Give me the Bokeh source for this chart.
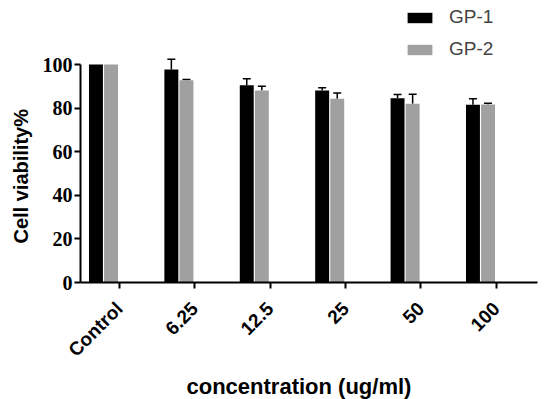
from bokeh.plotting import figure
from bokeh.models import ColumnDataSource, Range1d, FixedTicker, Whisker, TeeHead, Legend, LegendItem, Title
from bokeh.embed import file_html
from bokeh.resources import INLINE
import math

categories = ["Control", "6.25", "12.5", "25", "50", "100"]
gp1 = [100, 97.7, 90.5, 88.1, 84.6, 81.6]
gp1_err = [0, 4.7, 3.0, 1.3, 1.7, 2.7]
gp2 = [100, 92.8, 88.1, 84.3, 82.0, 81.7]
gp2_err = [0, 0.3, 1.9, 2.6, 4.4, 0.6]
y_ticks = [0, 20, 40, 60, 80, 100]

idx = list(range(len(categories)))
off = 0.1
w = 0.185

src1 = ColumnDataSource(dict(x=[i - off for i in idx], top=gp1))
src2 = ColumnDataSource(dict(x=[i + off for i in idx], top=gp2))


def err_source(offset, vals, errs):
    keep = [i for i in idx if errs[i] > 0]
    return ColumnDataSource(dict(x=[i + offset for i in keep],
                                 lo=[vals[i] for i in keep],
                                 up=[vals[i] + errs[i] for i in keep]))


e1 = err_source(-off, gp1, gp1_err)
e2 = err_source(off, gp2, gp2_err)

p = figure(width=550, height=399, output_backend="svg", toolbar_location=None,
           x_range=Range1d(-0.305, 5.756), y_range=Range1d(0, 129.4),
           min_border_left=80, min_border_right=13, min_border_top=0, min_border_bottom=117)
p.outline_line_color = None
p.xgrid.visible = False
p.ygrid.visible = False

r1 = p.vbar(x="x", top="top", width=w, source=src1, fill_color="black", line_color=None)
r2 = p.vbar(x="x", top="top", width=w, source=src2, fill_color="#a0a0a0", line_color=None)

for s in (e1, e2):
    wk = Whisker(source=s, base="x", lower="lo", upper="up", line_color="black", line_width=1.5,
                 lower_head=None,
                 upper_head=TeeHead(size=8, line_color="black", line_width=1.5))
    p.add_layout(wk)

# axes
p.xaxis.ticker = FixedTicker(ticks=[i + 0.21 for i in idx])
p.xaxis.major_label_overrides = {i + 0.21: c for i, c in zip(idx, categories)}
p.xaxis.major_label_orientation = math.pi / 4
p.xaxis.major_label_text_font = "Liberation Sans"
p.xaxis.major_label_text_font_style = "bold"
p.xaxis.major_label_text_font_size = "19px"
p.xaxis.major_label_text_color = "black"
p.xaxis.major_label_standoff = 17
p.xaxis.minor_tick_line_color = None
p.xaxis.major_tick_in = 0
p.xaxis.major_tick_out = 6
p.xaxis.axis_line_width = 2
p.xaxis.major_tick_line_width = 2

xtitle = Title(text="concentration (ug/ml)", align="left", offset=106, standoff=0,
               text_font="Liberation Sans", text_font_style="bold",
               text_font_size="22px", text_color="black")
p.add_layout(xtitle, "below")

p.yaxis.ticker = FixedTicker(ticks=y_ticks)
p.yaxis.bounds = (0, 100)
p.yaxis.major_label_text_font = "Liberation Serif"
p.yaxis.major_label_text_font_style = "bold"
p.yaxis.major_label_text_font_size = "20px"
p.yaxis.major_label_text_color = "black"
p.yaxis.minor_tick_line_color = None
p.yaxis.major_tick_in = 0
p.yaxis.major_tick_out = 6
p.yaxis.axis_line_width = 2
p.yaxis.major_tick_line_width = 2
p.yaxis.major_label_standoff = 2

ytitle = Title(text="Cell viability%", align="left", offset=39, standoff=15,
               text_font="Liberation Sans", text_font_style="bold",
               text_font_size="20px", text_color="black")
p.add_layout(ytitle, "left")

legend = Legend(items=[LegendItem(label="GP-1", renderers=[r1]),
                       LegendItem(label="GP-2", renderers=[r2])],
                location=(324, 222), orientation="vertical",
                glyph_width=31, glyph_height=13, label_height=20, spacing=10,
                label_standoff=14, padding=0, margin=0,
                border_line_color=None, background_fill_alpha=0,
                label_text_font="Liberation Sans", label_text_font_size="19px")
p.add_layout(legend)

open("out.html", "w").write(file_html(p, INLINE))
